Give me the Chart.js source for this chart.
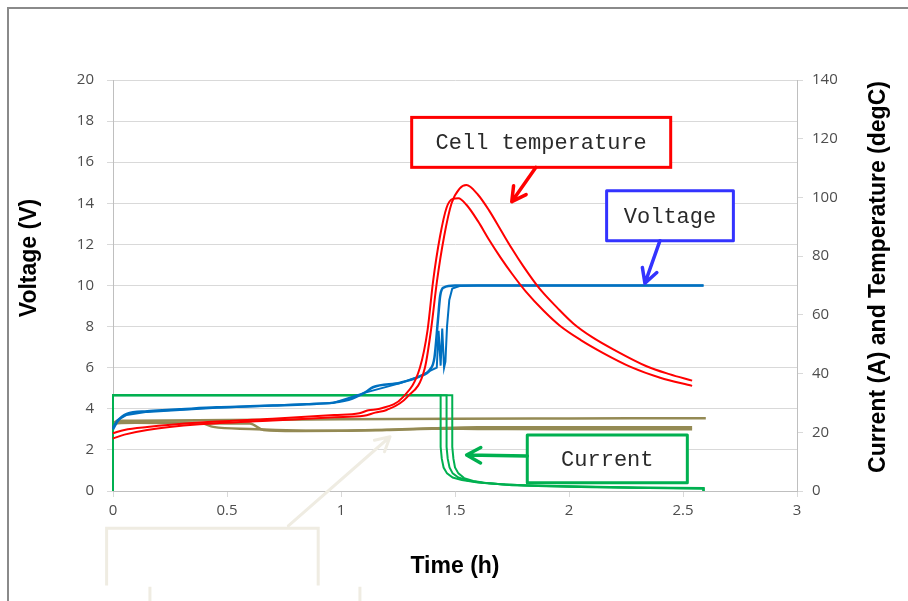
<!DOCTYPE html>
<html>
<head>
<meta charset="utf-8">
<script src="https://cdn.jsdelivr.net/npm/chart.js@4.4.1/dist/chart.umd.min.js"></script>
<style>
  html, body { margin: 0; padding: 0; background: #fff; overflow: hidden; }
  #wrap { position: relative; width: 908px; height: 601px; }
  #frame { position: absolute; left: 7px; top: 7px; width: 940px; height: 640px;
           border-left: 2px solid #8a8a8a; border-top: 2px solid #8a8a8a; pointer-events: none; }
</style>
</head>
<body>
<div id="wrap"><canvas id="chart"></canvas><div id="frame"></div></div>
<script>
// time axis (h)
const xTicks = [0, 0.5, 1, 1.5, 2, 2.5, 3];

// pack voltage (V, left axis)
const voltA_t = [0, 0.02, 0.06, 0.15, 0.235, 0.3, 0.455, 0.6, 0.7, 0.85, 0.966, 1.05, 1.11, 1.14, 1.26, 1.35, 1.39, 1.41, 1.425, 1.435, 1.45, 1.5, 2.59];
const voltA_v = [3.0, 3.4, 3.75, 3.88, 3.94, 3.98, 4.07, 4.12, 4.16, 4.22, 4.3, 4.5, 4.83, 5.05, 5.27, 5.6, 5.9, 6.5, 8.3, 9.5, 9.9, 10.0, 10.0];
const voltB_t = [0, 0.02, 0.06, 0.15, 0.455, 0.966, 1.11, 1.26, 1.35, 1.39, 1.42, 1.428, 1.437, 1.444, 1.452, 1.458, 1.465, 1.475, 1.488, 1.52, 1.6, 2.59];
const voltB_v = [3.1, 3.45, 3.7, 3.85, 4.05, 4.28, 4.8, 5.25, 5.6, 5.85, 6.0, 7.8, 6.1, 7.9, 6.0, 6.3, 8.0, 9.3, 9.85, 9.97, 10.0, 10.0];

// cell voltages (V, left axis)
const cell1_t = [0, 0.02, 0.1, 0.5, 1.0, 1.5, 2.0, 2.6];
const cell1_v = [3.3, 3.42, 3.42, 3.45, 3.49, 3.52, 3.53, 3.54];
const cell2_t = [0, 0.02, 0.1, 0.3, 0.39, 0.44, 0.6, 0.8, 1.0, 1.2, 1.4, 1.6, 2.0, 2.54];
const cell2_v = [3.1, 3.35, 3.35, 3.33, 3.3, 3.12, 3.02, 2.95, 2.93, 2.98, 3.05, 3.1, 3.1, 3.1];
const cell3_t = [0, 0.02, 0.1, 0.3, 0.6, 0.66, 0.8, 1.0, 1.2, 1.4, 1.6, 2.0, 2.54];
const cell3_v = [3.2, 3.3, 3.32, 3.3, 3.28, 2.97, 2.92, 2.93, 2.97, 3.03, 3.02, 3.0, 3.0];

// cell temperature (degC, right axis)
const tempA_t = [0, 0.05, 0.15, 0.38, 0.7, 0.97, 1.1, 1.15, 1.2, 1.29, 1.368, 1.395, 1.421, 1.452, 1.485, 1.52, 1.55, 1.6, 1.65, 1.7, 1.75, 1.8, 1.87, 1.95, 2.02, 2.1, 2.2, 2.34, 2.44, 2.54];
const tempA_v = [17.9, 19.2, 20.8, 22.7, 24.0, 25.1, 25.6, 26.7, 27.6, 32, 42, 55, 71.5, 86.6, 98, 103, 104.2, 101, 95.5, 89, 82.5, 76.5, 69, 62.3, 57, 52.5, 48, 42.5, 39.8, 37.6];
const tempB_t = [0, 0.05, 0.15, 0.38, 0.7, 0.97, 1.08, 1.12, 1.17, 1.272, 1.346, 1.38, 1.404, 1.434, 1.463, 1.49, 1.515, 1.55, 1.6, 1.65, 1.7, 1.75, 1.81, 1.89, 1.96, 2.05, 2.15, 2.27, 2.4, 2.54];
const tempB_v = [19.7, 20.8, 21.8, 23.3, 24.6, 25.9, 26.5, 27.5, 28.0, 32, 42, 55, 71.5, 86.6, 96.5, 99.5, 99.7, 97.5, 92, 85.5, 79.5, 74, 68, 61.3, 56.3, 51.5, 47, 42.3, 38.6, 35.8];

// current (A, right axis)
const curA_t = [0, 0, 1.437, 1.437, 1.442, 1.45, 1.465, 1.49, 1.53, 1.6, 1.7, 1.8, 2.0, 2.3, 2.59, 2.59];
const curA_v = [0, 32.6, 32.6, 15, 11, 8, 6, 4.6, 3.7, 2.9, 2.3, 2.0, 1.6, 1.2, 1.0, 0];
const curB_t = [0, 0, 1.463, 1.463, 1.468, 1.476, 1.49, 1.515, 1.555, 1.62, 1.72, 1.85, 2.0, 2.3, 2.59, 2.59];
const curB_v = [0, 32.6, 32.6, 15, 11, 8, 6, 4.6, 3.6, 2.8, 2.2, 1.8, 1.5, 1.1, 0.9, 0];
const curC_t = [0, 0, 1.488, 1.488, 1.493, 1.5, 1.515, 1.54, 1.58, 1.65, 1.75, 1.9, 2.1, 2.35, 2.59, 2.59];
const curC_v = [0, 32.6, 32.6, 15, 11, 8, 6, 4.4, 3.4, 2.6, 2.0, 1.6, 1.3, 1.0, 0.8, 0];

// callouts, placed in (time, voltage) units
const callouts = [
  { text: 'Cell temperature', color: '#ff0000', box: [1.310, 18.18, 2.446, 15.75], arrow: [1.855, 15.75, 1.749, 14.08] },
  { text: 'Voltage', color: '#3333ff', box: [2.165, 14.61, 2.721, 12.18], arrow: [2.399, 12.18, 2.333, 10.11] },
  { text: 'Current', color: '#00b050', box: [1.817, 2.725, 2.519, 0.404], arrow: [1.817, 1.703, 1.551, 1.752] }
];

const zip = (t, v) => t.map((x, i) => ({ x: x, y: v[i] }));

function arrow(ctx, x1, y1, x2, y2, color, w) {
    const a = Math.atan2(y2 - y1, x2 - x1);
    const len = 16;
    ctx.strokeStyle = color;
    ctx.lineWidth = w;
    ctx.lineCap = 'round';
    ctx.lineJoin = 'round';
    ctx.beginPath();
    ctx.moveTo(x1, y1);
    ctx.lineTo(x2, y2);
    ctx.moveTo(x2 - len * Math.cos(a - 0.5), y2 - len * Math.sin(a - 0.5));
    ctx.lineTo(x2, y2);
    ctx.lineTo(x2 - len * Math.cos(a + 0.5), y2 - len * Math.sin(a + 0.5));
    ctx.stroke();
}

const faintNote = {
    id: 'faintNote',
    beforeDatasetsDraw(chart) {
        const { ctx, scales: { x, yV } } = chart;
        ctx.save();
        ctx.strokeStyle = '#efece2';
        ctx.lineWidth = 3;
        ctx.beginPath();
        ctx.moveTo(x.getPixelForValue(-0.028), yV.getPixelForValue(-4.6));
        ctx.lineTo(x.getPixelForValue(-0.028), yV.getPixelForValue(-1.815));
        ctx.lineTo(x.getPixelForValue(0.9), yV.getPixelForValue(-1.815));
        ctx.lineTo(x.getPixelForValue(0.9), yV.getPixelForValue(-4.6));
        ctx.moveTo(x.getPixelForValue(0.162), yV.getPixelForValue(-4.66));
        ctx.lineTo(x.getPixelForValue(0.162), yV.getPixelForValue(-5.5));
        ctx.moveTo(x.getPixelForValue(1.083), yV.getPixelForValue(-4.66));
        ctx.lineTo(x.getPixelForValue(1.083), yV.getPixelForValue(-5.5));
        ctx.stroke();
        arrow(ctx, x.getPixelForValue(0.769), yV.getPixelForValue(-1.70),
              x.getPixelForValue(1.215), yV.getPixelForValue(2.64), '#efece2', 3);
        ctx.restore();
    }
};

const notes = {
    id: 'notes',
    afterDatasetsDraw(chart) {
        const { ctx, scales: { x, yV } } = chart;
        ctx.save();
        callouts.forEach(c => {
            const x1 = x.getPixelForValue(c.box[0]), y1 = yV.getPixelForValue(c.box[1]);
            const x2 = x.getPixelForValue(c.box[2]), y2 = yV.getPixelForValue(c.box[3]);
            ctx.fillStyle = '#ffffff';
            ctx.fillRect(x1, y1, x2 - x1, y2 - y1);
            ctx.strokeStyle = c.color;
            ctx.lineWidth = 3;
            ctx.strokeRect(x1, y1, x2 - x1, y2 - y1);
            ctx.fillStyle = '#2a2a2a';
            ctx.font = '22px "Liberation Mono"';
            ctx.textAlign = 'center';
            ctx.textBaseline = 'middle';
            ctx.fillText(c.text, (x1 + x2) / 2, (y1 + y2) / 2 + 1);
            arrow(ctx, x.getPixelForValue(c.arrow[0]), yV.getPixelForValue(c.arrow[1]),
                  x.getPixelForValue(c.arrow[2]), yV.getPixelForValue(c.arrow[3]), c.color, 3.5);
        });

        // axis titles
        const area = chart.chartArea;
        ctx.fillStyle = '#000000';
        ctx.font = 'bold 23px "Liberation Sans"';
        ctx.textAlign = 'center';
        ctx.textBaseline = 'middle';
        ctx.fillText('Time (h)', (area.left + area.right) / 2, area.bottom + 76);
        ctx.save();
        ctx.translate(30, 258);
        ctx.rotate(-Math.PI / 2);
        ctx.fillText('Voltage (V)', 0, 0);
        ctx.restore();
        ctx.save();
        ctx.translate(879, 277);
        ctx.rotate(-Math.PI / 2);
        ctx.fillText('Current (A) and Temperature (degC)', 0, 0);
        ctx.restore();
        ctx.restore();
    }
};

const line = (data, color, width, axis, smooth) => ({
    data: data,
    borderColor: color,
    borderWidth: width,
    pointRadius: 0,
    yAxisID: axis,
    tension: 0,
    clip: 4,
    cubicInterpolationMode: smooth ? 'monotone' : 'default'
});

const tickFont = { family: 'Open Sans', size: 15 };

new Chart(document.getElementById('chart').getContext('2d'), {
    type: 'line',
    data: {
        datasets: [
            line(zip(tempA_t, tempA_v), '#ff0000', 2, 'yT', true),
            line(zip(tempB_t, tempB_v), '#ff0000', 2, 'yT', true),
            line(zip(voltA_t, voltA_v), '#0070c0', 2.5, 'yV', true),
            line(zip(voltB_t, voltB_v), '#0070c0', 2, 'yV', false),
            line(zip(curA_t, curA_v), '#00b050', 2, 'yT', false),
            line(zip(curB_t, curB_v), '#00b050', 2, 'yT', false),
            line(zip(curC_t, curC_v), '#00b050', 2, 'yT', false),
            line(zip(cell1_t, cell1_v), '#948a54', 2.5, 'yV', true),
            line(zip(cell2_t, cell2_v), '#948a54', 2.5, 'yV', true),
            line(zip(cell3_t, cell3_v), '#948a54', 2.5, 'yV', true)
        ]
    },
    options: {
        responsive: true,
        maintainAspectRatio: false,
        animation: false,
        layout: { padding: { top: 80, left: 0, right: 0, bottom: 0 } },
        plugins: {
            legend: { display: false },
            tooltip: { enabled: false }
        },
        scales: {
            x: {
                type: 'linear',
                min: 0,
                max: 3,
                afterFit: (scale) => { scale.height = 110; },
                afterBuildTicks: (scale) => { scale.ticks = xTicks.map(v => ({ value: v })); },
                grid: { drawOnChartArea: false, color: '#d9d9d9', tickLength: 6 },
                border: { color: '#bfbfbf' },
                ticks: { color: '#4d4d4d', font: tickFont, padding: 5, maxRotation: 0,
                         callback: (v) => String(v) }
            },
            yV: {
                position: 'left',
                min: 0,
                max: 20,
                afterFit: (scale) => { scale.width = 113; },
                grid: { color: '#d9d9d9', tickLength: 6 },
                border: { color: '#bfbfbf' },
                ticks: { stepSize: 2, color: '#4d4d4d', font: tickFont, padding: 13 }
            },
            yT: {
                position: 'right',
                min: 0,
                max: 140,
                afterFit: (scale) => { scale.width = 111; },
                grid: { drawOnChartArea: false, color: '#d9d9d9', tickLength: 6 },
                border: { color: '#bfbfbf' },
                ticks: { stepSize: 20, color: '#4d4d4d', font: tickFont, padding: 9 }
            }
        }
    },
    plugins: [faintNote, notes]
});
</script>
</body>
</html>
